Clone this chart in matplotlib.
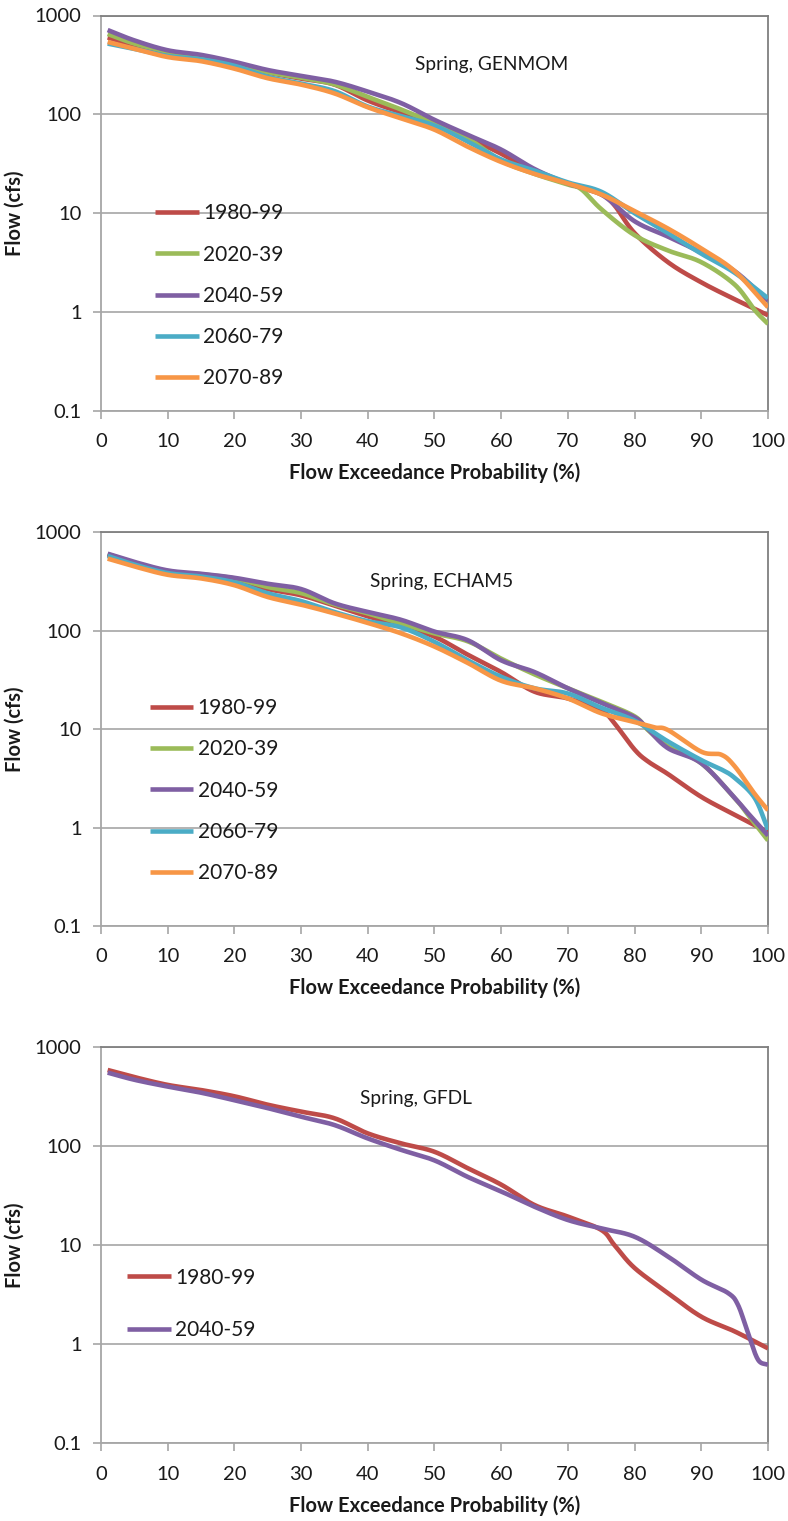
import numpy as np
import matplotlib
matplotlib.use("Agg")
import matplotlib.pyplot as plt
from matplotlib.ticker import FixedLocator, FixedFormatter, NullLocator

plt.rcParams['font.family'] = ['Lato', 'DejaVu Sans']

# ---- data: flow (cfs) against exceedance probability (%) ----
periods = ["1980-99", "2020-39", "2040-59", "2060-79", "2070-89"]
colors = {"1980-99": "#BE4B48", "2020-39": "#9BBB59", "2040-59": "#7F5FA3",
          "2060-79": "#4BACC6", "2070-89": "#F79646"}

# Spring, GENMOM
gen_x = {
    "1980-99": [1, 5, 10, 15, 20, 25, 30, 35, 40, 45, 50, 55, 60, 65, 70, 75, 77, 80, 85, 90, 95, 100],
    "2020-39": [1, 5, 10, 15, 20, 25, 30, 35, 40, 45, 50, 55, 60, 65, 70, 72, 75, 80, 85, 90, 95, 98, 100],
    "2040-59": [1, 5, 10, 15, 20, 25, 30, 35, 40, 45, 50, 55, 60, 65, 70, 75, 80, 85, 90, 95, 100],
    "2060-79": [1, 5, 10, 15, 20, 25, 30, 35, 40, 45, 50, 55, 60, 65, 70, 75, 80, 85, 90, 95, 100],
    "2070-89": [1, 5, 10, 15, 20, 25, 30, 35, 40, 45, 50, 55, 60, 65, 70, 75, 80, 85, 90, 95, 100],
}
gen_y = {
    "1980-99": [600, 500, 420, 375, 320, 265, 230, 200, 138, 105, 83, 58, 40, 26, 20, 15.5, 12, 6.3, 3.2, 2.0, 1.35, 0.93],
    "2020-39": [650, 520, 430, 380, 330, 267, 235, 201, 150, 112, 81, 57, 34, 25, 19.5, 17.5, 11, 6.0, 4.2, 3.2, 1.9, 1.05, 0.76],
    "2040-59": [713, 560, 445, 400, 340, 281, 245, 214, 170, 130, 88, 62, 44, 28, 20, 15.5, 8.3, 5.8, 4.0, 2.6, 1.3],
    "2060-79": [520, 460, 390, 360, 310, 240, 205, 172, 120, 96, 77, 53, 35, 27, 20.5, 16.5, 10, 6.3, 3.9, 2.5, 1.38],
    "2070-89": [540, 460, 380, 345, 290, 232, 200, 163, 118, 91, 70, 47, 33, 25, 20, 15.5, 10.5, 7.0, 4.4, 2.6, 1.12],
}

# Spring, ECHAM5
ech_x = {
    "1980-99": [1, 5, 10, 15, 20, 25, 30, 35, 40, 45, 50, 55, 60, 65, 70, 75, 77, 80, 82, 85, 90, 95, 100],
    "2020-39": [1, 5, 10, 15, 20, 25, 30, 35, 40, 45, 50, 55, 60, 65, 70, 75, 80, 82, 85, 90, 95, 97, 100],
    "2040-59": [1, 5, 10, 15, 20, 25, 30, 35, 40, 45, 50, 55, 60, 65, 70, 75, 80, 82, 85, 90, 95, 97, 100],
    "2060-79": [1, 5, 10, 15, 20, 25, 30, 35, 40, 45, 50, 55, 60, 65, 70, 75, 80, 85, 90, 93, 95, 98, 100],
    "2070-89": [1, 5, 10, 15, 20, 25, 30, 35, 40, 45, 50, 55, 60, 65, 70, 75, 80, 83, 85, 90, 93, 95, 98, 100],
}
ech_y = {
    "1980-99": [590, 480, 395, 370, 330, 265, 229, 180, 140, 112, 87, 57, 38, 24, 20.5, 15.5, 11.4, 6.2, 4.7, 3.5, 2.05, 1.35, 0.9],
    "2020-39": [600, 490, 400, 375, 340, 278, 241, 185, 150, 118, 94, 78, 52, 36, 26, 19, 13.5, 9.8, 6.7, 4.5, 2.0, 1.35, 0.74],
    "2040-59": [606, 500, 410, 379, 345, 300, 265, 190, 155, 129, 98, 80, 50, 38, 26, 18.5, 13.2, 10, 6.4, 4.5, 2.0, 1.4, 0.83],
    "2060-79": [575, 470, 385, 355, 310, 240, 200, 155, 125, 108, 77, 50, 34, 26, 23, 16.5, 12.2, 7.5, 4.85, 3.9, 3.2, 2.0, 0.95],
    "2070-89": [540, 450, 370, 340, 290, 220, 184, 150, 120, 94, 69, 47, 31, 26, 20.5, 14.5, 11.8, 10.4, 9.8, 5.9, 5.5, 4.2, 2.2, 1.5],
}

# Spring, GFDL
gfdl_periods = ["1980-99", "2040-59"]
gfdl_x = {
    "1980-99": [1, 5, 10, 15, 20, 25, 30, 35, 40, 45, 50, 55, 60, 65, 70, 75, 77, 80, 85, 90, 95, 100],
    "2040-59": [1, 5, 10, 15, 20, 25, 30, 35, 40, 45, 50, 55, 60, 65, 70, 75, 80, 85, 90, 94, 95.5, 97, 98.5, 100],
}
gfdl_y = {
    "1980-99": [590, 500, 417, 370, 320, 263, 224, 192, 135, 107, 88, 60, 41, 25.5, 19.5, 14.3, 10, 5.9, 3.3, 1.9, 1.35, 0.91],
    "2040-59": [555, 470, 401, 348, 292, 243, 199, 164, 120, 92, 72, 49, 35, 24.5, 18, 14.8, 12.2, 7.7, 4.5, 3.3, 2.5, 1.3, 0.7, 0.62],
}

panels = [
    ("Spring, GENMOM", periods, gen_x, gen_y),
    ("Spring, ECHAM5", periods, ech_x, ech_y),
    ("Spring, GFDL", gfdl_periods, gfdl_x, gfdl_y),
]

xticks = [0, 10, 20, 30, 40, 50, 60, 70, 80, 90, 100]
yticks = [0.1, 1, 10, 100, 1000]
ytick_labels = ["0.1", "1", "10", "100", "1000"]


def smooth(x, y, n=24):
    """Catmull-Rom curve through the points, in log space (Excel-style smoothed line)."""
    x = np.asarray(x, float)
    ly = np.log10(np.asarray(y, float))
    px = np.concatenate([[2 * x[0] - x[1]], x, [2 * x[-1] - x[-2]]])
    py = np.concatenate([[2 * ly[0] - ly[1]], ly, [2 * ly[-1] - ly[-2]]])
    ox, oy = [], []
    t = np.linspace(0, 1, n, endpoint=False)
    for i in range(1, len(px) - 2):
        p0, p1, p2, p3 = (np.array([px[j], py[j]]) for j in (i - 1, i, i + 1, i + 2))
        b1 = p1 + (p2 - p0) / 6
        b2 = p2 - (p3 - p1) / 6
        pts = ((1 - t)[:, None] ** 3 * p1 + 3 * ((1 - t) ** 2 * t)[:, None] * b1
               + 3 * ((1 - t) * t ** 2)[:, None] * b2 + (t ** 3)[:, None] * p2)
        ox.extend(pts[:, 0]); oy.extend(pts[:, 1])
    ox.append(x[-1]); oy.append(ly[-1])
    return np.array(ox), 10 ** np.array(oy)


fig = plt.figure(figsize=(7.88, 15.21), dpi=100)
W, H = 788, 1521
boxes = [(101, 15.5, 768, 411), (101, 532.3, 768, 926), (101, 1047.3, 768, 1443.3)]
title_pos = [(0.585, 0.877), (0.51, 0.875), (0.472, 0.871)]
legend_pos = [(0.081, 0.291, 1.02), (0.073, 0.344, 1.02), (0.039, 0.352, 1.57)]

text_color = "#1a1a1a"
grid_color = "#a6a6a6"

for (title, names, xs, ys), (l, t, r, b), tp, lp in zip(panels, boxes, title_pos, legend_pos):
    ax = fig.add_axes([l / W, (H - b) / H, (r - l) / W, (b - t) / H])
    for name in names:
        sx, sy = smooth(xs[name], ys[name])
        ax.plot(sx, sy, color=colors[name], lw=3.3, label=name,
                solid_capstyle="butt", zorder=3)
    ax.set_yscale("log")
    ax.set_xlim(0, 100)
    ax.set_ylim(0.1, 1000)
    ax.yaxis.set_major_locator(FixedLocator(yticks))
    ax.yaxis.set_major_formatter(FixedFormatter(ytick_labels))
    ax.yaxis.set_minor_locator(NullLocator())
    ax.set_xticks(xticks)
    ax.grid(axis="y", color=grid_color, lw=1.2)
    ax.set_axisbelow(True)
    for side in ("left", "bottom"):
        ax.spines[side].set_color(grid_color)
        ax.spines[side].set_linewidth(1.3)
    for side in ("top", "right"):
        ax.spines[side].set_color("#7f7f7f")
        ax.spines[side].set_linewidth(1.3)
    ax.tick_params(axis="both", direction="out", length=6, width=1.2,
                   color=grid_color, labelsize=14.5, labelcolor=text_color)
    ax.tick_params(axis="y", pad=8)
    ax.tick_params(axis="x", pad=10)
    ax.set_xlabel("Flow Exceedance Probability (%)", fontsize=14.5,
                  fontweight="bold", color=text_color, labelpad=9)
    ax.set_ylabel("Flow (cfs)", fontsize=14.5, fontweight="bold",
                  color=text_color, labelpad=7)
    ax.text(tp[0], tp[1], title, transform=ax.transAxes, ha="center",
            va="center", fontsize=13.8, color=text_color)
    ax.legend(loc="center left", bbox_to_anchor=(lp[0], lp[1]), frameon=False,
              fontsize=15, handlelength=2.1, handletextpad=0.2,
              labelspacing=lp[2], borderpad=0, borderaxespad=0,
              labelcolor=text_color)

fig.savefig("out.png", dpi=100, facecolor="white")
